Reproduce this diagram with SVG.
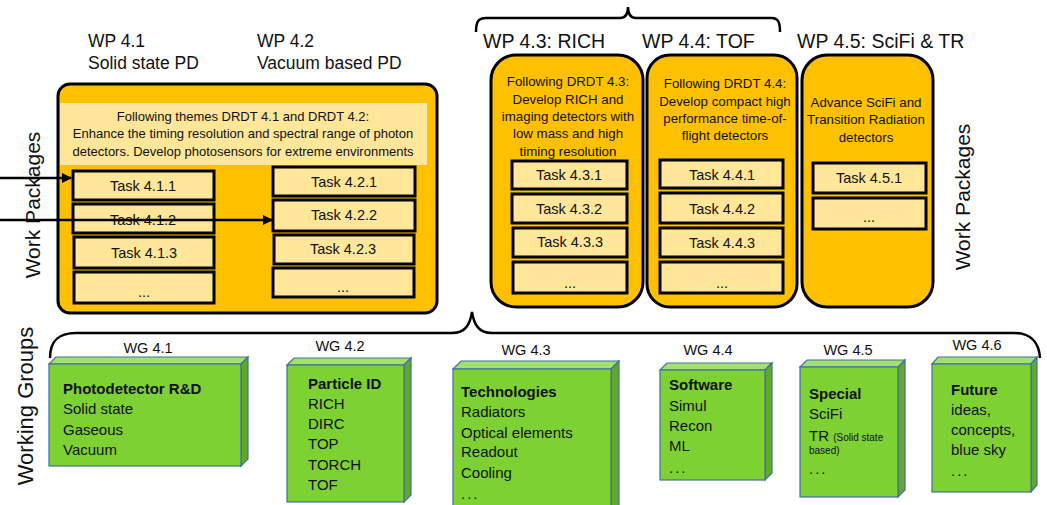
<svg xmlns="http://www.w3.org/2000/svg" width="1047" height="505" viewBox="0 0 1047 505">
<defs>
<style>
text{font-family:"Liberation Sans",Arial,sans-serif;fill:#111}
.wp{font-size:17.5px}
.wph{font-size:19.5px}
.hd{font-size:13px;text-anchor:middle}
.hd2{font-size:13.3px;text-anchor:middle}
.tk{font-size:14.5px;text-anchor:middle}
.wgl{font-size:14.5px;text-anchor:middle}
.wg{font-size:15px}
.b{font-weight:bold}
.side{font-size:21px;text-anchor:middle}
.pkg{fill:#FFC000;stroke:#000;stroke-width:3}
.band{fill:#FFE699}
.task{fill:#FFE699;stroke:#000;stroke-width:3}
.front{fill:#7DD133;stroke:#41719C;stroke-width:1.2}
.top{fill:#A4E070;stroke:#41719C;stroke-width:1.2}
.sd{fill:#63A82A;stroke:#41719C;stroke-width:1.2}
.brace{fill:none;stroke:#000;stroke-width:2.5}
.arr{stroke:#000;stroke-width:2.5;fill:none}
</style>
<marker id="ah" markerWidth="10" markerHeight="10" refX="9" refY="5" orient="auto" markerUnits="userSpaceOnUse" viewBox="0 0 10 10">
<path d="M0,0 L10,5 L0,10 Z" fill="#000"/>
</marker>
</defs>
<rect width="1047" height="505" fill="#fff"/>

<g id="side-labels">
<text class="side" transform="translate(40,205) rotate(-90)">Work Packages</text>
<text class="side" transform="translate(970,197) rotate(-90)">Work Packages</text>
<text class="side" style="font-size:22px" transform="translate(33,406) rotate(-90)">Working Groups</text>
</g>

<g id="braces">
<path class="brace" d="M476,32 C476,22 478,18 486,18 L620,18 C626,18 628,14 628,7 C628,14 630,18 636,18 L772,18 C778,18 780,22 780,32"/>
<path class="brace" d="M50,358 C50,341 58,333 76,333 L452,333 C465,333 470,325 472,312 C474,325 479,333 492,333 L1014,333 C1030,333 1039,342 1040,358"/>
</g>

<g id="wp41-42">
<text class="wp" x="88" y="47">WP 4.1</text>
<text class="wp" x="88" y="69">Solid state PD</text>
<text class="wp" x="257" y="47">WP 4.2</text>
<text class="wp" x="257" y="69">Vacuum based PD</text>
<rect class="pkg" x="58" y="84" width="379" height="229" rx="12"/>
<rect class="band" x="60" y="103" width="367" height="62"/>
<text class="hd" x="243" y="121">Following themes DRDT 4.1 and DRDT 4.2:</text>
<text class="hd" x="243" y="138">Enhance the timing resolution and spectral range of photon</text>
<text class="hd" x="243" y="156">detectors. Develop photosensors for extreme environments</text>
</g>
<g id="task411"><rect class="task" x="73" y="171" width="141" height="29"/><text class="tk" x="143" y="191">Task 4.1.1</text></g>
<g id="task412"><rect class="task" x="73" y="204" width="141" height="29"/><text class="tk" x="143" y="225">Task 4.1.2</text></g>
<g id="task413"><rect class="task" x="74" y="237" width="140" height="31"/><text class="tk" x="144" y="258">Task 4.1.3</text></g>
<g id="task41x"><rect class="task" x="74" y="272" width="140" height="31"/><text class="tk" x="144" y="297">...</text></g>
<g id="task421"><rect class="task" x="273" y="167" width="142" height="29"/><text class="tk" x="344" y="187">Task 4.2.1</text></g>
<g id="task422"><rect class="task" x="273" y="200" width="142" height="31"/><text class="tk" x="344" y="220">Task 4.2.2</text></g>
<g id="task423"><rect class="task" x="274" y="235" width="140" height="29"/><text class="tk" x="343" y="254">Task 4.2.3</text></g>
<g id="task42x"><rect class="task" x="273" y="268" width="141" height="29"/><text class="tk" x="343" y="292">...</text></g>

<g id="wp43">
<text class="wph" x="483" y="48">WP 4.3: RICH</text>
<rect class="pkg" x="491" y="55" width="152" height="252" rx="25"/>
<text class="hd2" x="568" y="86">Following DRDT 4.3:</text>
<text class="hd2" x="568" y="104">Develop RICH and</text>
<text class="hd2" x="568" y="121">imaging detectors with</text>
<text class="hd2" x="568" y="138">low mass and high</text>
<text class="hd2" x="568" y="156">timing resolution</text>
</g>
<g id="task431"><rect class="task" x="512" y="161" width="115" height="28"/><text class="tk" x="569" y="180">Task 4.3.1</text></g>
<g id="task432"><rect class="task" x="512" y="194" width="115" height="29"/><text class="tk" x="569" y="214">Task 4.3.2</text></g>
<g id="task433"><rect class="task" x="513" y="228" width="114" height="29"/><text class="tk" x="570" y="247">Task 4.3.3</text></g>
<g id="task43x"><rect class="task" x="513" y="262" width="114" height="31"/><text class="tk" x="570" y="288">...</text></g>

<g id="wp44">
<text class="wph" x="642" y="48">WP 4.4: TOF</text>
<rect class="pkg" x="647" y="55" width="150" height="252" rx="23"/>
<text class="hd2" x="725" y="88">Following DRDT 4.4:</text>
<text class="hd2" x="725" y="106">Develop compact high</text>
<text class="hd2" x="725" y="123">performance time-of-</text>
<text class="hd2" x="725" y="140">flight detectors</text>
</g>
<g id="task441"><rect class="task" x="660" y="160" width="123" height="28"/><text class="tk" x="722" y="180">Task 4.4.1</text></g>
<g id="task442"><rect class="task" x="660" y="193" width="123" height="30"/><text class="tk" x="722" y="214">Task 4.4.2</text></g>
<g id="task443"><rect class="task" x="660" y="228" width="123" height="29"/><text class="tk" x="722" y="248">Task 4.4.3</text></g>
<g id="task44x"><rect class="task" x="660" y="262" width="123" height="31"/><text class="tk" x="722" y="288">...</text></g>

<g id="wp45">
<text class="wph" x="797" y="48">WP 4.5: SciFi &amp; TR</text>
<rect class="pkg" x="802" y="55" width="131" height="252" rx="25"/>
<text class="hd2" x="866" y="107">Advance SciFi and</text>
<text class="hd2" x="866" y="124">Transition Radiation</text>
<text class="hd2" x="866" y="142">detectors</text>
</g>
<g id="task451"><rect class="task" x="813" y="163" width="113" height="30"/><text class="tk" x="869" y="183">Task 4.5.1</text></g>
<g id="task45x"><rect class="task" x="813" y="198" width="113" height="31"/><text class="tk" x="869" y="222">...</text></g>

<g id="wg41">
<text class="wgl" x="148" y="353">WG 4.1</text>
<polygon class="top" points="49,364 56,357 248,357 241,364"/>
<polygon class="sd" points="241,364 248,357 248,459 241,466"/>
<rect class="front" x="49" y="364" width="192" height="102"/>
<text class="wg b" x="63" y="394">Photodetector R&amp;D</text>
<text class="wg" x="63" y="414">Solid state</text>
<text class="wg" x="63" y="435">Gaseous</text>
<text class="wg" x="63" y="455">Vacuum</text>
</g>
<g id="wg42">
<text class="wgl" x="340" y="351">WG 4.2</text>
<polygon class="top" points="287,365 294,358 411,358 404,365"/>
<polygon class="sd" points="404,365 411,358 411,495 404,502"/>
<rect class="front" x="287" y="365" width="117" height="137"/>
<text class="wg b" x="308" y="389">Particle ID</text>
<text class="wg" x="308" y="409">RICH</text>
<text class="wg" x="308" y="429">DIRC</text>
<text class="wg" x="308" y="449">TOP</text>
<text class="wg" x="308" y="470">TORCH</text>
<text class="wg" x="308" y="490">TOF</text>
</g>
<g id="wg43">
<text class="wgl" x="526" y="355">WG 4.3</text>
<polygon class="top" points="453,369 461,361 619,361 611,369"/>
<polygon class="sd" points="611,369 619,361 619,508 611,516"/>
<rect class="front" x="453" y="369" width="158" height="147"/>
<text class="wg b" x="461" y="397">Technologies</text>
<text class="wg" x="461" y="417">Radiators</text>
<text class="wg" x="461" y="438">Optical elements</text>
<text class="wg" x="461" y="457">Readout</text>
<text class="wg" x="461" y="478">Cooling</text>
<text class="wg" x="461" y="499" letter-spacing="2">...</text>
</g>
<g id="wg44">
<text class="wgl" x="708" y="355">WG 4.4</text>
<polygon class="top" points="660,370 667,363 772,363 765,370"/>
<polygon class="sd" points="765,370 772,363 772,473 765,480"/>
<rect class="front" x="660" y="370" width="105" height="110"/>
<text class="wg b" x="669" y="390">Software</text>
<text class="wg" x="669" y="411">Simul</text>
<text class="wg" x="669" y="431">Recon</text>
<text class="wg" x="669" y="451">ML</text>
<text class="wg" x="669" y="473" letter-spacing="2">...</text>
</g>
<g id="wg45">
<text class="wgl" x="848" y="355">WG 4.5</text>
<polygon class="top" points="800,367 807,360 905,360 898,367"/>
<polygon class="sd" points="898,367 905,360 905,490 898,497"/>
<rect class="front" x="800" y="367" width="98" height="130"/>
<text class="wg b" x="809" y="399">Special</text>
<text class="wg" x="809" y="419">SciFi</text>
<text class="wg" x="809" y="441">TR <tspan style="font-size:10px">(Solid state</tspan></text>
<text class="wg" x="809" y="454" style="font-size:10px">based)</text>
<text class="wg" x="809" y="474" letter-spacing="2">...</text>
</g>
<g id="wg46">
<text class="wgl" x="977" y="350">WG 4.6</text>
<polygon class="top" points="932,364 938,357 1037,357 1031,364"/>
<polygon class="sd" points="1031,364 1037,357 1037,485 1031,492"/>
<rect class="front" x="932" y="364" width="99" height="128"/>
<text class="wg b" x="951" y="395">Future</text>
<text class="wg" x="951" y="415">ideas,</text>
<text class="wg" x="951" y="435">concepts,</text>
<text class="wg" x="951" y="455">blue sky</text>
<text class="wg" x="951" y="476" letter-spacing="2">...</text>
</g>

<g id="connectors">
<line class="arr" x1="0" y1="178" x2="71" y2="178" marker-end="url(#ah)"/>
<line class="arr" x1="0" y1="220" x2="272" y2="220" marker-end="url(#ah)"/>
</g>
</svg>
